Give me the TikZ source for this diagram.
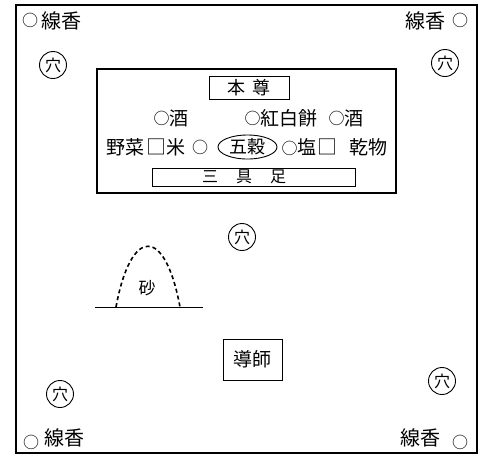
\documentclass[tikz,border=0pt]{standalone}
\usepackage{fontspec}
\setmainfont{Noto Sans CJK JP}
\newfontfamily\jpf{Noto Sans CJK JP}
\usetikzlibrary{shapes.geometric}
\newcommand\smallring{{\fontsize{16}{16}\selectfont\raisebox{0.5pt}{○}}}
\begin{document}
\begin{tikzpicture}[x=1pt,y=-1pt,
  txt/.style={inner sep=0pt, font=\jpf\fontsize{19}{19}\selectfont},
  ctxt/.style={inner sep=0pt, font=\jpf\fontsize{20}{20}\selectfont},
  hole/.style={circle, draw, line width=0.9pt, minimum size=27pt, inner sep=0pt, font=\jpf\fontsize{16}{16}\selectfont},
  ringnode/.style={inner sep=0pt, font=\jpf\fontsize{16}{16}\selectfont},
  sq/.style={inner sep=0pt, font=\jpf\fontsize{20}{20}\selectfont},
  tag/.style={draw, line width=0.9pt, inner sep=0pt}]
\useasboundingbox (0,0) rectangle (481,456);
\fill[white] (0,0) rectangle (481,456);
% frames
\draw[line width=2.2pt] (16,5) rectangle (477,453);
\draw[line width=1.3pt] (97,69) rectangle (396,193);
% altar box contents
\node[tag, minimum width=80pt, minimum height=23pt] (honzon) at (249,87.5) {};
\node[txt, font=\jpf\fontsize{18}{18}\selectfont] (honzonT) at (249,87.5) {本\hspace{8pt}尊};
\node[tag, minimum width=203pt, minimum height=18pt] (mitsu) at (253.5,177) {};
\node[txt, font=\jpf\fontsize{16}{16}\selectfont] (mitsuT) at (244,177) {三\hspace{18pt}具\hspace{18pt}足};
% row 1
\node[txt] (sake1) at (171,118) {\smallring 酒};
\node[txt] (kohaku) at (281,118) {\smallring 紅白餅};
\node[txt] (sake2) at (346,118) {\smallring 酒};
% row 2
\node[txt] (yasai) at (125,147) {野菜};
\node[sq] (sq1) at (156,147) {□};
\node[txt] (kome) at (176,147) {米};
\node[ringnode] (r1) at (200,147.5) {○};
\node[ellipse, draw, line width=0.9pt, minimum width=59pt, minimum height=24pt, inner sep=0pt, font=\jpf\fontsize{18}{18}\selectfont] (gokoku) at (247.5,147) {五穀};
\node[txt] (shio) at (299,147) {\smallring 塩};
\node[sq] (sq2) at (327,147) {□};
\node[txt] (kanbutsu) at (368,147) {乾物};
% holes
\node[hole] (h1) at (53,65) {穴};
\node[hole] (h2) at (445,63) {穴};
\node[hole] (h3) at (60,394) {穴};
\node[hole] (h4) at (442,381) {穴};
\node[hole] (h5) at (242,237) {穴};
% incense
\node[ringnode] (o1) at (30,20) {○};
\node[ctxt] (s1) at (61,21) {線香};
\node[ctxt] (s2) at (425,21) {線香};
\node[ringnode] (o2) at (460,20) {○};
\node[ringnode] (o3) at (31,442) {○};
\node[ctxt] (s3) at (64,438) {線香};
\node[ctxt] (s4) at (420,438) {線香};
\node[ringnode] (o4) at (460,442) {○};
% sand
\coordinate (sandL) at (95,307);
\coordinate (sandR) at (203,307);
\coordinate (sandA) at (116,307);
\coordinate (sandB) at (180,307);
\draw[line width=1pt] (sandL) -- (sandR);
\draw[line width=1.6pt, dash pattern=on 4pt off 3pt] (sandA) .. controls (131,226) and (165,226) .. (sandB);
\node[txt, font=\jpf\fontsize{17}{17}\selectfont] (suna) at (147,288) {砂};
% doshi
\node[tag, minimum width=59pt, minimum height=41pt, font=\jpf\fontsize{19}{19}\selectfont] (doshi) at (252.5,359.5) {導師};
\end{tikzpicture}
\end{document}
